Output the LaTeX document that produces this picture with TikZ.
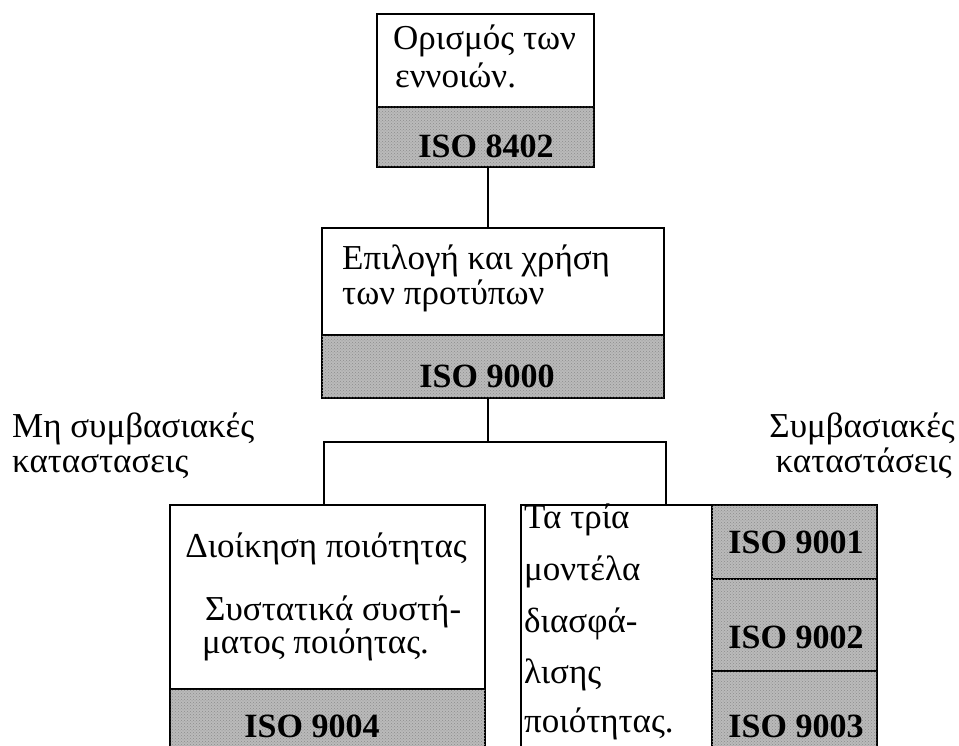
\documentclass[tikz,border=0pt]{standalone}
\usepackage{fontspec}
\setmainfont{Liberation Serif}
\usetikzlibrary{patterns}
\begin{document}
\tikzset{
  boxbase/.style={draw, line width=1.8pt, inner sep=0pt, outer sep=0pt, anchor=north west},
  wbox/.style={boxbase, fill=white},
  gbox/.style={boxbase, fill=black!27, postaction={pattern=crosshatch dots, pattern color=black!45}},
  txt/.style={font=\fontsize{35}{40}\selectfont, inner sep=0pt, anchor=base west},
  txtc/.style={txt, anchor=base},
  txte/.style={txt, anchor=base east},
  iso/.style={font=\fontsize{34}{40}\selectfont\bfseries, inner sep=0pt, anchor=base},
  conn/.style={line width=1.4pt},
}
\begin{tikzpicture}[x=1pt,y=-1pt]
\useasboundingbox (0,0) rectangle (959,746);
\clip (0,0) rectangle (959,746);
% top box
\node[wbox, minimum width=217pt, minimum height=93pt] (b1) at (377,14) {};
\node[gbox, minimum width=217pt, minimum height=60pt] (g1) at (377,107) {};
\node[txt] (b1a) at (393,50) {Ορισμός των};
\node[txt] (b1b) at (395,88) {εννοιών.};
\node[iso] (g1t) at (486,158) {ISO 8402};
% second box
\node[wbox, minimum width=342pt, minimum height=107pt] (b2) at (322,228) {};
\node[gbox, minimum width=342pt, minimum height=63pt] (g2) at (322,335) {};
\node[txt] (b2a) at (342,270) {Επιλογή και χρήση};
\node[txt] (b2b) at (342,305) {των προτύπων};
\node[iso] (g2t) at (487,387) {ISO 9000};
% side labels
\node[txt] (la) at (12,437) {Μη συμβασιακές};
\node[txt] (lb) at (12,472) {καταστασεις};
\node[txte] (ra) at (955,437) {Συμβασιακές};
\node[txte] (rb) at (952,472) {καταστάσεις};
% bottom left box
\node[wbox, minimum width=315pt, minimum height=184pt] (b3) at (170,505) {};
\node[gbox, minimum width=315pt, minimum height=101pt] (g3) at (170,689) {};
\node[txtc] (b3a) at (326,557) {Διοίκηση ποιότητας};
\node[txt] (b3b) at (205,620) {Συστατικά συστή-};
\node[txt] (b3c) at (202,653) {ματος ποιόητας.};
\node[iso] (g3t) at (312,737) {ISO 9004};
% bottom right box
\node[wbox, minimum width=191pt, minimum height=285pt] (b4) at (521,505) {};
\node[gbox, minimum width=165pt, minimum height=74pt] (g41) at (712,505) {};
\node[gbox, minimum width=165pt, minimum height=92pt] (g42) at (712,579) {};
\node[gbox, minimum width=165pt, minimum height=119pt] (g43) at (712,671) {};
\node[txt] (b4a) at (524,528) {Τα τρία};
\node[txt] (b4b) at (524,580) {μοντέλα};
\node[txt] (b4c) at (524,632) {διασφά-};
\node[txt] (b4d) at (524,683) {λισης};
\node[txt] (b4e) at (524,732) {ποιότητας.};
\node[iso] (g41t) at (796,553) {ISO 9001};
\node[iso] (g42t) at (796,648) {ISO 9002};
\node[iso] (g43t) at (796,737) {ISO 9003};
% connectors
\coordinate (c1) at (488,0);
\coordinate (j) at (488,442);
\coordinate (jl) at (324,0);
\coordinate (jr) at (666,0);
\draw[conn] (g1.south -| c1) -- (b2.north -| c1);
\draw[conn] (g2.south -| j) -- (j);
\draw[conn] (b3.north -| jl) -- (jl |- j) -- (jr |- j) -- (b4.north -| jr);
\end{tikzpicture}
\end{document}
